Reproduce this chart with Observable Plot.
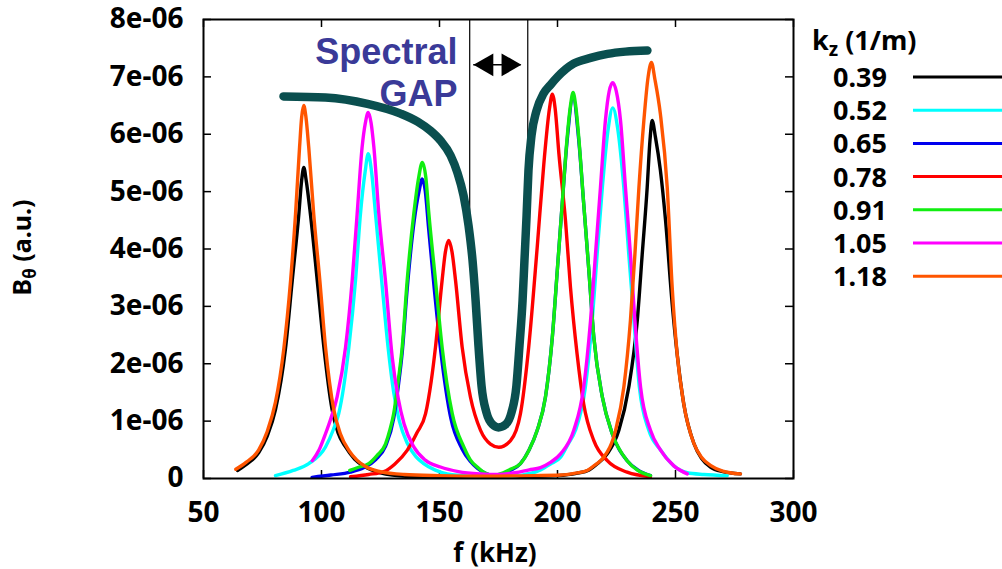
<!DOCTYPE html>
<html>
<head>
<meta charset="utf-8">
<script src="https://cdn.jsdelivr.net/npm/d3@7"></script>
<script src="https://cdn.jsdelivr.net/npm/@observablehq/plot@0.6"></script>
<style>
  html, body { margin: 0; padding: 0; background: white; overflow: hidden; }
  #chart { position: relative; width: 1002px; height: 569px; }
</style>
</head>
<body>
<div id="chart"></div>
<script>
// ---------- data (B in units of 1e-06, f in kHz) ----------
const kz = ["0.39", "0.52", "0.65", "0.78", "0.91", "1.05", "1.18"];
const kzColors = ["#000000", "#00ffff", "#0000ee", "#ff0000", "#11ee11", "#ff00ff", "#ff5500"];

const xTicks = [50, 100, 150, 200, 250, 300];
const yTicks = [0, 1, 2, 3, 4, 5, 6, 7, 8];
const yTickLabels = ["0", "1e-06", "2e-06", "3e-06", "4e-06", "5e-06", "6e-06", "7e-06", "8e-06"];

const b039 = [[64.4,0.14],[68,0.24],[73.4,0.45],[77,0.74],[80.5,1.2],[84.7,2.25],[87.6,3.45],[90.4,4.61],[91.6,5.2],[92.5,5.42],[93.5,5.2],[95.3,4.61],[98.2,3.45],[101,2.29],[104.5,1.2],[107,0.8],[110.2,0.55],[114,0.34],[118.6,0.2],[125,0.1],[130,0.06],[140,0.03],[155,0.02],[170,0.02],[185,0.03],[200,0.05],[208,0.09],[213.4,0.15],[217,0.26],[221.1,0.43],[226,0.84],[230.2,1.59],[233.8,2.75],[235.9,3.91],[238,5.07],[239.2,5.9],[240.1,6.24],[241.5,5.95],[243.6,5.37],[245.8,4.49],[248.6,3.04],[250.7,2.17],[253.5,1.3],[257.8,0.61],[261,0.35],[264.8,0.2],[270,0.12],[277.5,0.08]];
const b052 = [[80.5,0.05],[88,0.14],[94.6,0.26],[101.7,0.55],[105,0.85],[107.3,1.13],[111.6,2.29],[114.4,3.45],[116.5,4.61],[118.5,5.35],[119.8,5.66],[121.2,5.35],[122.9,4.61],[125.5,3.45],[128.2,2.29],[130.6,1.5],[133,1.0],[136.3,0.62],[140,0.38],[143.3,0.26],[148,0.15],[153.3,0.08],[165,0.04],[175,0.03],[185,0.06],[192.8,0.15],[197,0.25],[201.3,0.37],[204.5,0.6],[207.6,0.84],[211.8,1.59],[214.7,2.75],[216.8,3.91],[219,5.07],[221.5,6.1],[223.4,6.46],[225.5,6.1],[228.1,5.07],[230.2,3.91],[232.4,2.75],[234.7,1.59],[238.7,0.84],[243.6,0.5],[249.3,0.22],[255,0.1],[262,0.07],[271.9,0.05]];
const b065 = [[96,0.02],[104,0.06],[112.3,0.11],[118,0.19],[123,0.33],[127.1,0.56],[130.6,1.05],[132.5,1.6],[134.2,2.2],[136.3,3.3],[139.3,4.5],[141.3,5.0],[142.7,5.22],[144,5.0],[145.3,4.4],[147.8,3.3],[150.6,2.2],[154.8,1.05],[159.5,0.52],[163,0.3],[166,0.18],[170,0.08],[173,0.05],[177,0.08],[180,0.14],[184.3,0.26],[188,0.5],[191.4,0.84],[194.9,1.42],[197.8,2.46],[199.9,3.62],[202,4.79],[204.1,5.9],[206.6,6.64],[209,5.9],[211.1,4.79],[213.3,3.62],[215.4,2.46],[219,1.42],[223.2,0.78],[229.5,0.31],[234,0.15],[239.4,0.05]];
const b078 = [[112.3,0.03],[120,0.07],[126.4,0.12],[131,0.25],[136.3,0.49],[140.5,0.8],[144.1,1.13],[146.5,1.7],[148.3,2.29],[151.1,3.45],[152.5,3.95],[153.9,4.15],[155.3,3.95],[156.8,3.45],[159.6,2.29],[163.1,1.42],[167.4,0.84],[171.6,0.6],[175.1,0.545],[180.1,0.66],[184.3,1.13],[187.8,2.29],[191.4,4.03],[194.2,5.48],[196.6,6.45],[197.8,6.7],[199,6.45],[200.6,5.66],[203.4,4.49],[205.5,3.33],[208.3,2.17],[211.1,1.3],[215.4,0.66],[221.1,0.31],[229.5,0.11],[239.4,0.03]];
const b091 = [[112,0.14],[116,0.2],[120,0.26],[123.5,0.4],[127.1,0.6],[129,0.85],[130.6,1.13],[132.5,1.7],[134.2,2.29],[136.3,3.45],[139.1,4.61],[141.2,5.25],[142.7,5.51],[144.2,5.25],[145.5,4.61],[148.3,3.45],[151.1,2.29],[155.4,1.13],[160.3,0.55],[163,0.33],[166,0.2],[170,0.08],[173,0.05],[177,0.1],[180,0.16],[184.3,0.26],[188,0.5],[191.4,0.84],[194.9,1.42],[197.8,2.46],[199.9,3.62],[202,4.79],[204.1,5.95],[205.5,6.5],[206.6,6.73],[207.7,6.5],[209,5.95],[211.1,4.79],[213.3,3.62],[215.4,2.46],[219,1.42],[223.2,0.78],[229.5,0.31],[234,0.14],[239.4,0.05]];
const b105 = [[96.1,0.31],[99,0.5],[101.7,0.78],[104,1.05],[106.6,1.42],[110.2,2.29],[113,3.45],[115.1,4.61],[117.2,5.77],[118.6,6.2],[119.8,6.38],[121,6.2],[122.2,5.77],[124.3,4.61],[127.1,3.45],[130,2.1],[132.5,1.4],[135,0.95],[139.1,0.55],[144,0.32],[150.4,0.2],[158,0.12],[167.4,0.08],[175,0.07],[182,0.1],[188,0.15],[192.8,0.19],[197,0.28],[201.3,0.43],[206.9,0.84],[211.1,1.59],[214,2.75],[216.1,3.91],[218.2,5.07],[220.3,6.24],[221.9,6.75],[223.4,6.9],[224.9,6.75],[226.7,6.24],[228.8,5.07],[230.9,3.91],[232.8,2.75],[235.2,1.59],[239.4,0.84],[243.6,0.5],[249.3,0.22],[255,0.08]];
const b118 = [[63.7,0.16],[68,0.28],[73.4,0.5],[77,0.82],[80.5,1.33],[84,2.25],[86.9,3.45],[89,4.61],[90.7,5.77],[91.6,6.3],[92.5,6.5],[93.4,6.3],[94.6,5.77],[96.7,4.61],[99.3,3.45],[101.7,2.29],[105.2,1.2],[108,0.78],[111.6,0.49],[115,0.32],[119,0.2],[125,0.12],[135,0.07],[150,0.05],[170,0.04],[190,0.05],[201.3,0.06],[207,0.09],[212.6,0.14],[216,0.24],[219.6,0.37],[224.6,0.84],[228.1,1.59],[230.9,2.75],[232.8,3.91],[234.5,5.07],[236.6,6.24],[238.4,7.0],[239.8,7.25],[241.3,6.95],[243.6,6.35],[246.5,5.07],[248.6,3.33],[250.7,2.17],[253.5,1.3],[257.8,0.61],[261,0.37],[264.8,0.23],[270,0.13],[277.5,0.08]];

const kzSeries = [b039, b052, b065, b078, b091, b105, b118];

// thick gap curve
const gapCurve = [[83.9,6.66],[101.7,6.64],[119.5,6.53],[133.5,6.36],[140.7,6.22],[146.2,6.06],[150.4,5.89],[154.7,5.63],[157.6,5.33],[160.2,4.93],[162.3,4.41],[164.0,3.8],[165.3,3.1],[166.5,2.32],[167.8,1.62],[169.9,1.15],[172.5,0.94],[175.0,0.89],[178.0,0.94],[180.5,1.15],[182.6,1.62],[183.9,2.32],[185.2,3.1],[186.0,3.8],[186.9,4.58],[187.7,5.37],[189.0,5.98],[191.1,6.41],[194.1,6.71],[197.0,6.86],[200.0,7.0],[206.8,7.23],[214.0,7.33],[221.2,7.4],[228.8,7.44],[238.1,7.46]];

// gap edges (f, lower end of the guide line) and arrow
const gapEdges = [{f: 162.8, low: 4.0}, {f: 187.4, low: 5.0}];
const arrowY = 7.21;
const arrowTips = [164.5, 184.6];
const gapLabel = [{f: 157.6, b: 7.23, t: "Spectral"}, {f: 157.6, b: 6.5, t: "GAP"}];

// ---------- build ----------
const table = kzSeries.flatMap((s, i) => s.map(([f, b]) => ({f, b, kz: kz[i]})));
const gapTable = gapCurve.map(([f, b]) => ({f, b}));

const W = 1002, H = 569;
const mL = 203, mR = 209, mT = 19, mB = 91;
const innerW = W - mL - mR, innerH = H - mT - mB;
const tickLen = 8;

const chart = Plot.plot({
  width: W, height: H,
  marginLeft: mL, marginRight: mR, marginTop: mT, marginBottom: mB,
  style: {fontFamily: "Noto Sans", fontSize: "28px", fontWeight: 700, background: "white", color: "black"},
  x: {domain: [50, 300]},
  y: {domain: [0, 8]},
  color: {domain: kz, range: kzColors},
  marks: [
    Plot.axisX({ticks: xTicks, tickSize: 0, tickPadding: 24, label: null, fontSize: 28}),
    Plot.axisY({ticks: yTicks, tickSize: 0, tickPadding: 20, label: null, fontSize: 28,
                tickFormat: (d) => yTickLabels[yTicks.indexOf(d)]}),
    // inward ticks on all four sides
    Plot.ruleX(xTicks, {x: d => d, insetTop: innerH - tickLen, stroke: "black", strokeWidth: 1.5}),
    Plot.ruleX(xTicks, {x: d => d, insetBottom: innerH - tickLen, stroke: "black", strokeWidth: 1.5}),
    Plot.ruleY(yTicks, {y: d => d, insetRight: innerW - tickLen, stroke: "black", strokeWidth: 1.5}),
    Plot.ruleY(yTicks, {y: d => d, insetLeft: innerW - tickLen, stroke: "black", strokeWidth: 1.5}),
    // gap guide lines
    Plot.ruleX(gapEdges, {x: "f", y1: "low", y2: 8, stroke: "black", strokeWidth: 1.2}),
    // double arrow
    Plot.ruleY([arrowY], {y: d => d, x1: arrowTips[0], x2: arrowTips[1], stroke: "black", strokeWidth: 1.5}),
    Plot.dot([arrowTips[0]], {x: d => d, y: arrowY, symbol: "triangle", r: 8.5, fill: "black", stroke: "none", rotate: -90, dx: 13}),
    Plot.dot([arrowTips[1]], {x: d => d, y: arrowY, symbol: "triangle", r: 8.5, fill: "black", stroke: "none", rotate: 90, dx: -13}),
    // label
    Plot.text(gapLabel, {x: "f", y: "b", text: "t", textAnchor: "end", lineAnchor: "bottom",
      fill: "#3a3a98", fontFamily: "Liberation Sans", fontWeight: 700, fontSize: 36}),
    // thick gap curve
    Plot.line(gapTable, {x: "f", y: "b", stroke: "#0a4f4f", strokeWidth: 8.5, curve: "monotone-x", strokeLinecap: "round"}),
    // kz spectra
    Plot.line(table, {x: "f", y: "b", z: "kz", stroke: "kz", strokeWidth: 3.4, curve: "monotone-x", strokeLinejoin: "round"}),
    Plot.frame({stroke: "black", strokeWidth: 2})
  ]
});

document.getElementById("chart").appendChild(chart);

// ---------- labels & legend ----------
const svg = d3.select(chart);
const g = svg.append("g").attr("font-family", "Noto Sans").attr("font-weight", 700).attr("fill", "black");

// x label
g.append("text").attr("x", 495).attr("y", 562).attr("text-anchor", "middle").attr("font-size", 26).text("f (kHz)");

// y label
const yl = g.append("text").attr("transform", "translate(31,247.5) rotate(-90)").attr("text-anchor", "middle").attr("font-size", 25);
yl.append("tspan").text("B");
yl.append("tspan").attr("font-size", 17).attr("dy", 5).text("θ");
yl.append("tspan").attr("dy", -5).text(" (a.u.)");

// legend title
const lt = g.append("text").attr("x", 812).attr("y", 50).attr("font-size", 27).attr("text-anchor", "start");
lt.append("tspan").text("k");
lt.append("tspan").attr("font-size", 19).attr("dy", 6).text("z");
lt.append("tspan").attr("dy", -6).text(" (1/m)");

// legend entries
kz.forEach((k, i) => {
  const cy = 77 + i * 33.2;
  g.append("text").attr("x", 887).attr("y", cy + 10).attr("text-anchor", "end").attr("font-size", 27).text(k);
  g.append("line").attr("x1", 913).attr("x2", 1002).attr("y1", cy).attr("y2", cy)
    .attr("stroke", kzColors[i]).attr("stroke-width", 3);
});
</script>
</body>
</html>
